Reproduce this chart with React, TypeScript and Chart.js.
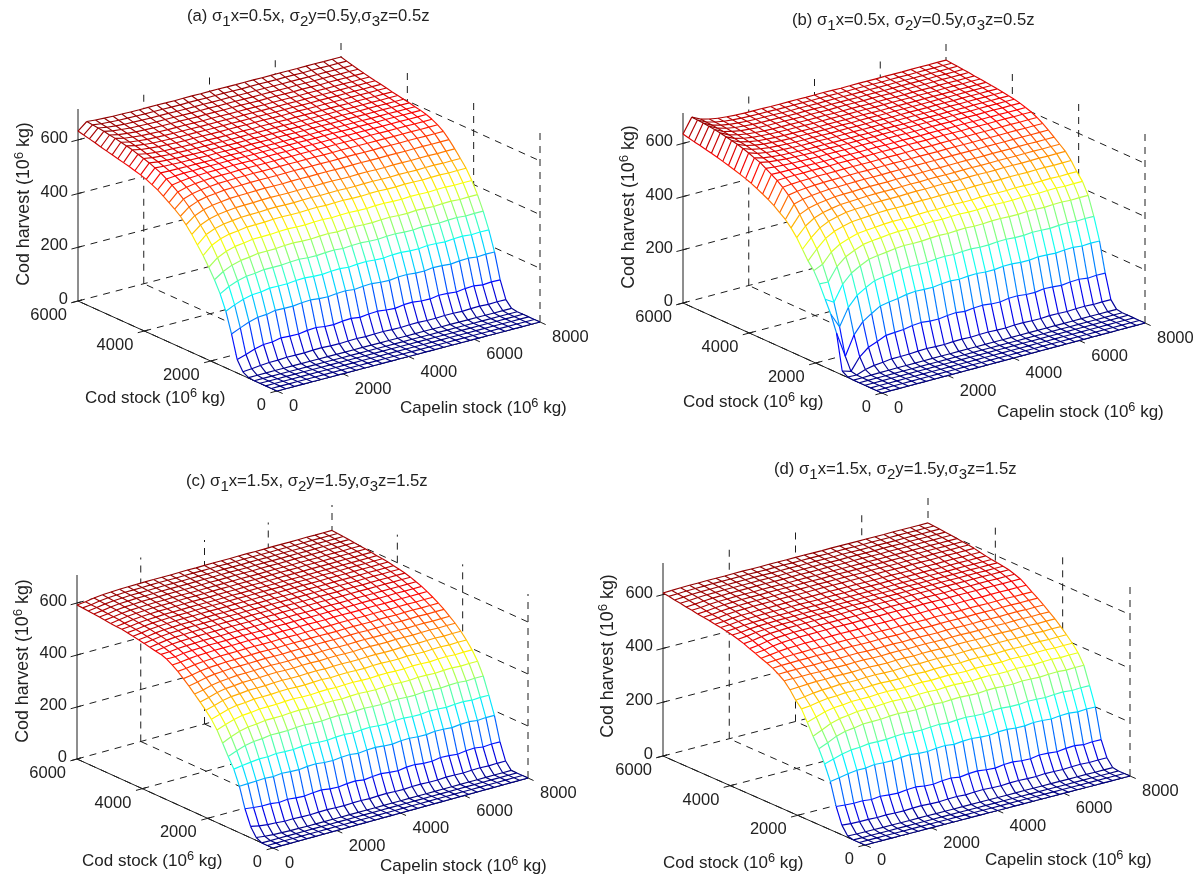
import React, { useEffect, useRef } from "react";
import { Chart, registerables } from "chart.js";

Chart.register(...registerables);

// Grid nodes of the mesh (10^6 kg)
const codNodes = [0, 171, 343, 514, 686, 857, 1029, 1200, 1371, 1543, 1714, 1886, 2057, 2229, 2400, 2571, 2743, 2914, 3086, 3257, 3429, 3600, 3771, 3943, 4114, 4286, 4457, 4629, 4800, 4971, 5143, 5314, 5486, 5657, 5829, 6000];
const capelinNodes = [0, 267, 533, 800, 1067, 1333, 1600, 1867, 2133, 2400, 2667, 2933, 3200, 3467, 3733, 4000, 4267, 4533, 4800, 5067, 5333, 5600, 5867, 6133, 6400, 6667, 6933, 7200, 7467, 7733, 8000];

const codTicks = [0, 2000, 4000, 6000];
const capelinTicks = [0, 2000, 4000, 6000, 8000];
const harvestTicks = [0, 200, 400, 600];

// Harvest read along cod stock at capelin = 0, the first capelin step, and capelin = 8000
const edgeA = [0, 0, 0, 0, 0, 2, 14, 50, 136, 211, 266, 309, 346, 380, 410, 440, 466, 488, 505, 520, 534, 548, 558, 568, 575, 581, 587, 592, 597, 602, 607, 612, 618, 623, 628, 633];
const stepA = [0, 0, 0, 0, 0, 2, 17, 60, 150, 226, 285, 331, 373, 410, 440, 466, 491, 514, 534, 551, 567, 580, 593, 602, 611, 618, 624, 631, 636, 640, 645, 648, 652, 655, 657, 660];
const farA = [0, 0, 0, 0, 0, 3, 26, 90, 184, 257, 317, 369, 412, 448, 475, 501, 526, 547, 562, 573, 581, 587, 591, 596, 600, 604, 608, 613, 617, 621, 625, 630, 635, 640, 646, 652];

const edgeB = [0, 0, 0, 0, 0, 0, 2, 15, 148, 209, 256, 304, 344, 371, 405, 439, 466, 488, 504, 521, 534, 545, 556, 566, 574, 581, 588, 594, 600, 606, 611, 616, 621, 625, 630, 635];
const stepB = [0, 0, 0, 0, 0, 0, 1, 5, 52, 153, 236, 302, 359, 407, 440, 474, 508, 537, 561, 581, 597, 610, 623, 636, 643, 652, 659, 665, 670, 674, 679, 682, 685, 687, 689, 690];
const farB = [0, 0, 0, 0, 0, 3, 30, 120, 231, 314, 383, 426, 453, 485, 510, 527, 544, 561, 576, 589, 600, 607, 614, 619, 622, 626, 629, 632, 634, 637, 639, 642, 644, 646, 648, 650];

const edgeC = [0, 0, 0, 11, 44, 102, 179, 235, 274, 316, 356, 388, 412, 434, 455, 476, 495, 513, 528, 541, 549, 552, 557, 562, 566, 570, 574, 577, 578, 580, 583, 585, 587, 589, 591, 592];
const stepC = [0, 0, 0, 7, 37, 98, 180, 240, 287, 331, 368, 398, 422, 443, 462, 483, 500, 516, 530, 541, 550, 557, 562, 567, 570, 574, 577, 580, 582, 585, 587, 589, 591, 593, 594, 596];
const farC = [0, 0, 0, 0, 26, 90, 182, 250, 314, 361, 395, 423, 447, 468, 485, 502, 516, 529, 541, 551, 559, 567, 573, 578, 582, 586, 589, 591, 594, 597, 599, 602, 604, 606, 608, 610];

const edgeD = [0, 0, 0, 5, 36, 96, 179, 235, 282, 319, 362, 402, 425, 454, 478, 493, 506, 516, 524, 533, 541, 550, 557, 563, 568, 572, 575, 579, 582, 585, 589, 592, 596, 599, 603, 606];
const stepD = [0, 0, 0, 4, 33, 93, 185, 245, 296, 334, 373, 405, 429, 456, 478, 494, 508, 518, 528, 537, 545, 553, 560, 565, 570, 574, 577, 581, 584, 587, 591, 594, 598, 601, 604, 607];
const farD = [0, 0, 0, 3, 30, 88, 200, 270, 336, 373, 399, 421, 442, 461, 478, 494, 510, 524, 539, 553, 561, 568, 572, 575, 578, 582, 586, 591, 594, 597, 599, 602, 604, 606, 608, 610];

// Share of the way from the first capelin step to the capelin = 8000 value, at each capelin node
const capelinShape = [0, 0, 0.4, 0.62, 0.76, 0.85, 0.9, 0.93, 0.95, 0.96, 0.97, 0.975, 0.98, 0.985, 0.99, 0.99, 0.99, 0.99, 1, 1, 1, 1, 1, 1, 1, 1, 1, 1, 1, 1, 1];
// Small waviness of the mesh rows, strongest on the low rows of the wall
const capelinRipple = [0, 0, 0, 2, -2, 3, -1, -3, 2, 4, -2, -4, 1, 3, -3, 2, 4, -1, -4, 2, 3, -2, -3, 3, 1, -3, 2, 4, -2, 1, 0];

type Panel = {
  letter: string; sigma: string;
  ox: number; oy: number;
  origin: [number, number]; capV: [number, number]; codV: [number, number];
  zScale: number; zHeight: number; colorMax: number;
  edge: number[]; step: number[]; far: number[];
  title: [number, number];
  zLabel: [number, number]; codLabel: [number, number]; capLabel: [number, number];
};

const panels: Panel[] = [
  { letter: "a", sigma: "0.5", ox: 0, oy: 0, origin: [277, 391], capV: [263, -69], codV: [-199, -90], zScale: 0.2685, zHeight: 192, colorMax: 665, edge: edgeA, step: stepA, far: farA, title: [187, 16], zLabel: [24, 204], codLabel: [85, 397], capLabel: [400, 407] },
  { letter: "b", sigma: "0.5", ox: 602, oy: 0, origin: [882, 393], capV: [263, -70], codV: [-199, -90], zScale: 0.266, zHeight: 190, colorMax: 695, edge: edgeB, step: stepB, far: farB, title: [792, 20], zLabel: [629, 207], codLabel: [683, 401], capLabel: [997, 411] },
  { letter: "c", sigma: "1.5", ox: 0, oy: 440, origin: [273, 848], capV: [255, -70], codV: [-196, -89], zScale: 0.26, zHeight: 184, colorMax: 620, edge: edgeC, step: stepC, far: farC, title: [186, 481], zLabel: [23, 661], codLabel: [82, 860], capLabel: [380, 865] },
  { letter: "d", sigma: "1.5", ox: 602, oy: 440, origin: [865, 845], capV: [265, -69], codV: [-202, -89], zScale: 0.269, zHeight: 193, colorMax: 620, edge: edgeD, step: stepD, far: farD, title: [774, 469], zLabel: [608, 656], codLabel: [663, 862], capLabel: [985, 859] },
];

const PW = 602;
const PH = 440;
const CAP_MAX = 8000;
const COD_MAX = 6000;
const DASH = [7, 6];
const INK = "#1c1c1c";

function project(p: Panel, cap: number, cod: number, z: number) {
  const a = cap / CAP_MAX;
  const b = cod / COD_MAX;
  return {
    x: p.origin[0] + p.capV[0] * a + p.codV[0] * b,
    y: p.origin[1] + p.capV[1] * a + p.codV[1] * b - z * p.zScale,
  };
}

function harvestAt(p: Panel, i: number, j: number) {
  if (j === 0) return p.edge[i];
  const base = p.step[i] + capelinShape[j] * (p.far[i] - p.step[i]);
  const weight = Math.min(1, base / 80) * Math.max(0.1, 1 - base / 620);
  return base + capelinRipple[j] * weight;
}

function jet(v: number) {
  const c = (t: number) => Math.round(255 * Math.max(0, Math.min(1, t)));
  const r = c(1.5 - Math.abs(4 * v - 3));
  const g = c(1.5 - Math.abs(4 * v - 2));
  const b = c(1.5 - Math.abs(4 * v - 1));
  return `rgb(${r},${g},${b})`;
}

function lineSet(points: { x: number; y: number }[], order: number, dashed = false, width = 1) {
  return {
    data: points, showLine: true, pointRadius: 0, borderWidth: width, borderColor: INK,
    borderDash: dashed ? DASH : [], order, tension: 0, fill: false,
  };
}

function buildDatasets(p: Panel) {
  const ds: any[] = [];
  const zs = codNodes.map((_, i) => capelinNodes.map((_, j) => harvestAt(p, i, j)));
  const colorOf = (a: number, b: number) => jet(Math.min(1, (a + b) / 2 / p.colorMax));

  // Mesh rows (constant cod stock)
  codNodes.forEach((cod, i) => {
    const pts = capelinNodes.map((cap, j) => project(p, cap, cod, zs[i][j]));
    ds.push({
      data: pts, showLine: true, pointRadius: 0, borderWidth: 1.15, order: 0, tension: 0,
      borderColor: "#00008f",
      segment: { borderColor: (c: any) => colorOf(zs[i][c.p0DataIndex], zs[i][c.p1DataIndex]) },
    });
  });
  // Mesh columns (constant capelin stock)
  capelinNodes.forEach((cap, j) => {
    const pts = codNodes.map((cod, i) => project(p, cap, cod, zs[i][j]));
    ds.push({
      data: pts, showLine: true, pointRadius: 0, borderWidth: 1.15, order: 0, tension: 0,
      borderColor: "#00008f",
      segment: { borderColor: (c: any) => colorOf(zs[c.p0DataIndex][j], zs[c.p1DataIndex][j]) },
    });
  });

  // White faces hide the grid behind the surface
  const last = codNodes.length - 1;
  const lastJ = capelinNodes.length - 1;
  const outline = [
    ...capelinNodes.map((cap, j) => project(p, cap, 0, zs[0][j])),
    ...codNodes.map((cod, i) => project(p, CAP_MAX, cod, zs[i][lastJ])),
    ...capelinNodes.map((cap, j) => project(p, cap, COD_MAX, zs[last][j])).reverse(),
    ...codNodes.map((cod, i) => project(p, 0, cod, zs[i][0])).reverse(),
  ];
  ds.push({
    data: outline, showLine: true, pointRadius: 0, borderWidth: 0, borderColor: "rgba(0,0,0,0)",
    backgroundColor: "#ffffff", fill: "shape", order: 1, tension: 0,
  });

  const top = p.zHeight / p.zScale;
  // Dashed grid on the floor and the two back walls
  capelinTicks.forEach((cap) => {
    ds.push(lineSet([project(p, cap, 0, 0), project(p, cap, COD_MAX, 0)], 2, true));
    if (cap > 0) ds.push(lineSet([project(p, cap, COD_MAX, 0), project(p, cap, COD_MAX, top)], 2, true));
  });
  codTicks.forEach((cod) => {
    ds.push(lineSet([project(p, 0, cod, 0), project(p, CAP_MAX, cod, 0)], 2, true));
    if (cod < COD_MAX) ds.push(lineSet([project(p, CAP_MAX, cod, 0), project(p, CAP_MAX, cod, top)], 2, true));
  });
  harvestTicks.forEach((z) => {
    if (z === 0) return;
    ds.push(lineSet([project(p, 0, COD_MAX, z), project(p, CAP_MAX, COD_MAX, z)], 2, true));
    ds.push(lineSet([project(p, CAP_MAX, COD_MAX, z), project(p, CAP_MAX, 0, z)], 2, true));
  });

  // Solid axes and ticks
  ds.push(lineSet([project(p, 0, COD_MAX, 0), project(p, 0, COD_MAX, top)], 2));
  ds.push(lineSet([project(p, 0, COD_MAX, 0), project(p, 0, 0, 0)], 2));
  ds.push(lineSet([project(p, 0, 0, 0), project(p, CAP_MAX, 0, 0)], 2));
  codTicks.forEach((cod) => ds.push(lineSet([project(p, -200, cod, 0), project(p, 120, cod, 0)], 2)));
  capelinTicks.forEach((cap) => ds.push(lineSet([project(p, cap, -170, 0), project(p, cap, 100, 0)], 2)));
  harvestTicks.forEach((z) => ds.push(lineSet([project(p, -200, COD_MAX, z), project(p, 120, COD_MAX, z)], 2)));
  return ds;
}

const textBase: React.CSSProperties = {
  position: "absolute", whiteSpace: "nowrap", color: "#222", lineHeight: 1,
  fontFamily: '"Liberation Sans", Arial, sans-serif',
};
const TICK_SIZE = 16.5;
const LABEL_SIZE = 17;
const ZLABEL_SIZE = 17.8;
const TITLE_SIZE = 16.7;

const Sup = ({ children }: { children: React.ReactNode }) => (
  <span style={{ position: "relative", top: "-0.45em", fontSize: "0.75em" }}>{children}</span>
);
const Sub = ({ children }: { children: React.ReactNode }) => (
  <span style={{ position: "relative", top: "0.3em", fontSize: "0.9em" }}>{children}</span>
);

function PanelChart({ p }: { p: Panel }) {
  const ref = useRef<HTMLCanvasElement>(null);
  useEffect(() => {
    if (!ref.current) return;
    const chart = new Chart(ref.current, {
      type: "scatter",
      data: { datasets: buildDatasets(p) },
      options: {
        responsive: false, animation: false, events: [],
        layout: { padding: 0 },
        plugins: { legend: { display: false }, tooltip: { enabled: false }, title: { display: false } },
        scales: {
          x: { type: "linear", display: false, min: p.ox, max: p.ox + PW },
          y: { type: "linear", display: false, reverse: true, min: p.oy, max: p.oy + PH },
        },
      },
    });
    return () => chart.destroy();
  }, [p]);

  const tick = (x: number, y: number, s: string, kind: "right" | "left") => (
    <span
      key={s + kind + x}
      style={{
        ...textBase, fontSize: TICK_SIZE, top: y, left: x,
        transform: kind === "right" ? "translate(-100%,-50%)" : "translateY(-50%)",
      }}
    >
      {s}
    </span>
  );

  return (
    <>
      <canvas
        ref={ref} width={PW} height={PH}
        style={{ position: "absolute", left: p.ox, top: p.oy, width: PW, height: PH, display: "block" }}
      />
      <span style={{ ...textBase, fontSize: TITLE_SIZE, left: p.title[0], top: p.title[1], transform: "translateY(-50%)" }}>
        ({p.letter}) σ<Sub>1</Sub>x={p.sigma}x, σ<Sub>2</Sub>y={p.sigma}y,σ<Sub>3</Sub>z={p.sigma}z
      </span>
      <span
        style={{
          ...textBase, fontSize: ZLABEL_SIZE, left: p.zLabel[0], top: p.zLabel[1],
          transform: "translate(-50%,-50%) rotate(-90deg)",
        }}
      >
        Cod harvest (10<Sup>6</Sup> kg)
      </span>
      <span style={{ ...textBase, fontSize: LABEL_SIZE, left: p.codLabel[0], top: p.codLabel[1], transform: "translateY(-50%)" }}>
        Cod stock (10<Sup>6</Sup> kg)
      </span>
      <span style={{ ...textBase, fontSize: LABEL_SIZE, left: p.capLabel[0], top: p.capLabel[1], transform: "translateY(-50%)" }}>
        Capelin stock (10<Sup>6</Sup> kg)
      </span>
      {harvestTicks.map((z) => {
        const q = project(p, 0, COD_MAX, z);
        return tick(q.x - 10, q.y - 3, String(z), "right");
      })}
      {codTicks.map((c) => {
        const q = project(p, 0, c, 0);
        return tick(q.x - 11, q.y + 13, String(c), "right");
      })}
      {capelinTicks.map((c) => {
        const q = project(p, c, 0, 0);
        return tick(q.x + 12, q.y + 14, String(c), "left");
      })}
    </>
  );
}

export default function App() {
  return (
    <div style={{ position: "absolute", left: 0, top: 0, width: 1204, height: 879, background: "#fff", overflow: "hidden" }}>
      {panels.map((p) => (
        <PanelChart key={p.letter} p={p} />
      ))}
    </div>
  );
}
